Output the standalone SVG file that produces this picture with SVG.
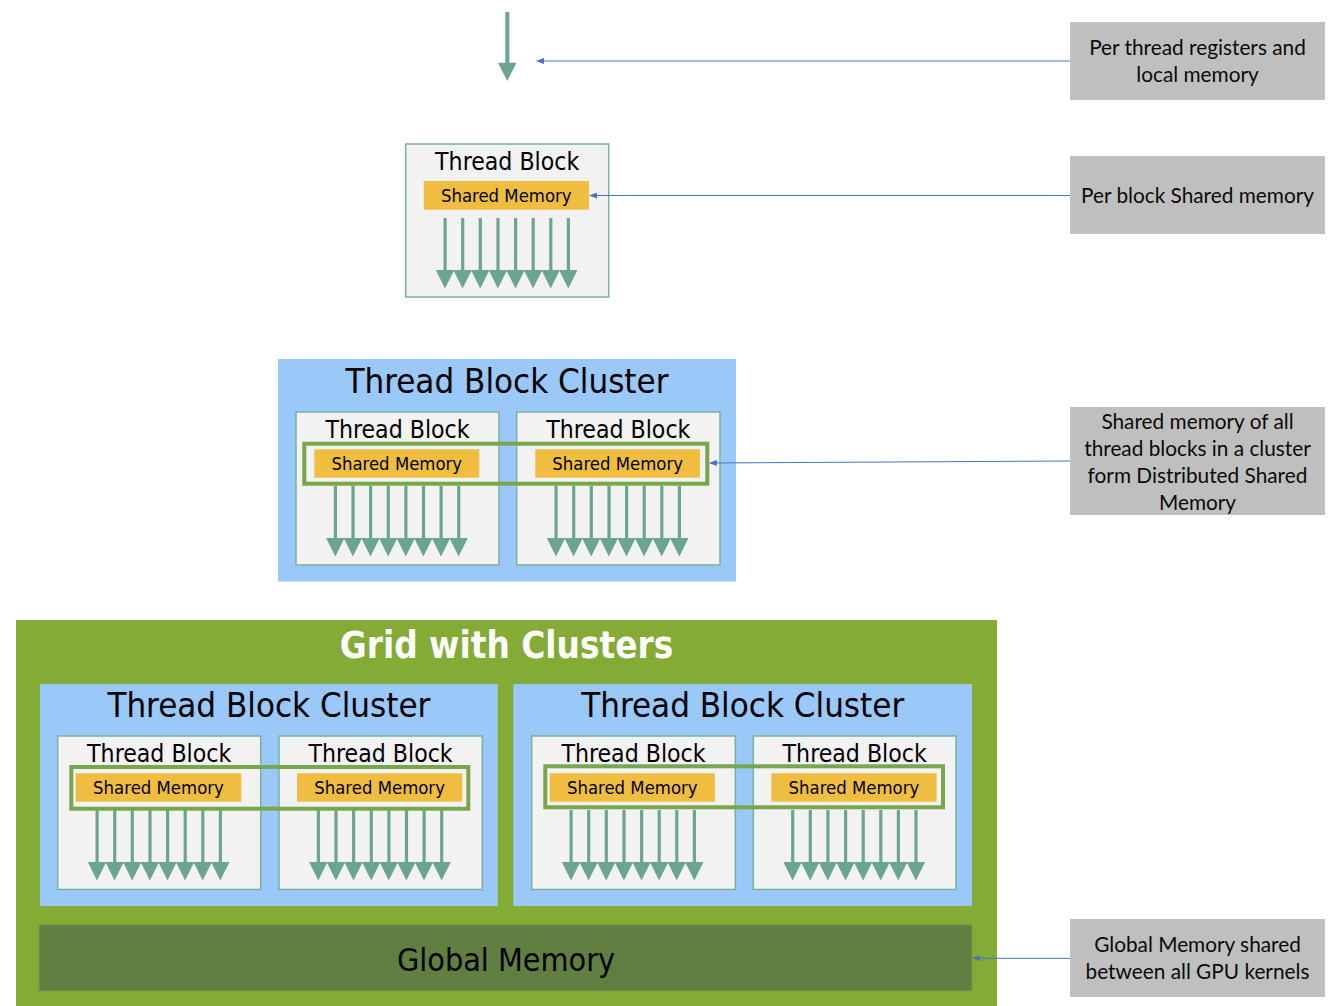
<svg xmlns="http://www.w3.org/2000/svg" xmlns:xlink="http://www.w3.org/1999/xlink" width="1335" height="1006" viewBox="0 0 1335 1006">
<style>
.tb{fill:#f2f2f2;stroke:#7bb09b;stroke-width:1.5}
.sm{fill:#efbd3f}
.cl{fill:#9ac8f8}
.dsm{fill:none;stroke:#78a64b;stroke-width:4}
.lbl{fill:#bfbfbf}
.t{font-family:"DejaVu Sans Condensed","DejaVu Sans",sans-serif;fill:#000;text-anchor:middle}
.tbt{font-size:24.6px}
.smt{font-size:18.4px}
.clt{font-size:34.6px}
.note{font-family:Lato,"Liberation Sans",sans-serif;font-size:20.8px;fill:#0a0a0a;text-anchor:middle}
.conn{stroke:#4a72c6;stroke-width:1;fill:none}
.ar{fill:#6ba48f}
</style>
<defs>
<marker id="ah" markerWidth="8" markerHeight="6" refX="7" refY="3" orient="auto" markerUnits="userSpaceOnUse">
<path d="M0,0 L8,3 L0,6 Z" fill="#4a72c6"/>
</marker>
<g id="arrows" class="ar">
<rect x="37.8" y="74" width="3.2" height="53"/><polygon points="30.1,126 48.5,126 39.3,144.5"/>
<rect x="55.4" y="74" width="3.2" height="53"/><polygon points="47.7,126 66.1,126 56.9,144.5"/>
<rect x="73.0" y="74" width="3.2" height="53"/><polygon points="65.3,126 83.7,126 74.5,144.5"/>
<rect x="90.7" y="74" width="3.2" height="53"/><polygon points="83.0,126 101.4,126 92.2,144.5"/>
<rect x="108.3" y="74" width="3.2" height="53"/><polygon points="100.6,126 119.0,126 109.8,144.5"/>
<rect x="125.9" y="74" width="3.2" height="53"/><polygon points="118.2,126 136.6,126 127.4,144.5"/>
<rect x="143.5" y="74" width="3.2" height="53"/><polygon points="135.8,126 154.2,126 145.0,144.5"/>
<rect x="161.1" y="74" width="3.2" height="53"/><polygon points="153.4,126 171.8,126 162.6,144.5"/>
</g>
</defs>
<rect width="1335" height="1006" fill="#ffffff"/>

<g id="thread">
<rect x="505.3" y="12" width="4" height="52" class="ar"/>
<polygon points="498,62.7 516.6,62.7 507.3,81" class="ar"/>
</g>

<g id="block-single" transform="translate(405.7,144)">
<rect class="tb" x="0" y="0" width="203" height="153"/>
<text class="t tbt" x="101.5" y="25.5">Thread Block</text>
<rect class="sm" x="18" y="37" width="165.3" height="28.7"/>
<text class="t smt" x="100.6" y="58.3">Shared Memory</text>
<use xlink:href="#arrows"/>
</g>

<g id="cluster-1">
<rect class="cl" x="278" y="359" width="458" height="222.5"/>
<text class="t clt" x="507" y="392.5">Thread Block Cluster</text>
<g id="c1-block-left" transform="translate(296,412)">
<rect class="tb" x="0" y="0" width="203" height="153"/>
<text class="t tbt" x="101.5" y="25.5">Thread Block</text>
<rect class="sm" x="18.3" y="37.3" width="165" height="28.4"/>
<text class="t smt" x="100.8" y="58.3">Shared Memory</text>
<use xlink:href="#arrows"/>
</g>
<g id="c1-block-right" transform="translate(516.7,412)">
<rect class="tb" x="0" y="0" width="203.3" height="153"/>
<text class="t tbt" x="101.6" y="25.5">Thread Block</text>
<rect class="sm" x="18.6" y="37.3" width="164.7" height="28.4"/>
<text class="t smt" x="101" y="58.3">Shared Memory</text>
<use xlink:href="#arrows"/>
</g>
<rect class="dsm" x="304.3" y="443.7" width="403" height="40"/>
</g>

<g id="grid">
<rect x="16" y="620" width="981" height="390" fill="#85ab37"/>
<text x="506.5" y="658" font-family="'DejaVu Sans Condensed','DejaVu Sans',sans-serif" font-weight="bold" font-size="36.5" fill="#ffffff" text-anchor="middle">Grid with Clusters</text>

<g id="cluster-a">
<rect class="cl" x="40" y="684" width="457.7" height="222"/>
<text class="t clt" x="268.9" y="716.5">Thread Block Cluster</text>
<g id="a-block-left" transform="translate(57.7,736)">
<rect class="tb" x="0" y="0" width="203" height="153.5"/>
<text class="t tbt" x="101.5" y="25.5">Thread Block</text>
<rect class="sm" x="18" y="37.3" width="165.6" height="28.4"/>
<text class="t smt" x="100.8" y="58.3">Shared Memory</text>
<use xlink:href="#arrows"/>
</g>
<g id="a-block-right" transform="translate(279,736)">
<rect class="tb" x="0" y="0" width="203.3" height="153.5"/>
<text class="t tbt" x="101.6" y="25.5">Thread Block</text>
<rect class="sm" x="18" y="37.3" width="165.3" height="28.4"/>
<text class="t smt" x="100.6" y="58.3">Shared Memory</text>
<use xlink:href="#arrows"/>
</g>
<rect class="dsm" x="71.3" y="767" width="397" height="41.7"/>
</g>

<g id="cluster-b">
<rect class="cl" x="513.3" y="684" width="458.7" height="222"/>
<text class="t clt" x="742.7" y="716.5">Thread Block Cluster</text>
<g id="b-block-left" transform="translate(531.7,736)">
<rect class="tb" x="0" y="0" width="203.6" height="153.5"/>
<text class="t tbt" x="101.8" y="25.5">Thread Block</text>
<rect class="sm" x="18" y="37.3" width="165.3" height="28.4"/>
<text class="t smt" x="100.6" y="58.3">Shared Memory</text>
<use xlink:href="#arrows"/>
</g>
<g id="b-block-right" transform="translate(753.3,736)">
<rect class="tb" x="0" y="0" width="202.7" height="153.5"/>
<text class="t tbt" x="101.4" y="25.5">Thread Block</text>
<rect class="sm" x="18" y="37.3" width="165.3" height="28.4"/>
<text class="t smt" x="100.6" y="58.3">Shared Memory</text>
<use xlink:href="#arrows"/>
</g>
<rect class="dsm" x="545.3" y="766.3" width="397.7" height="41"/>
</g>

<g id="global-memory">
<rect x="39.3" y="925" width="932.4" height="65.7" fill="#617f40" stroke="#6e8d47" stroke-width="1"/>
<text class="t" x="506" y="971" font-size="32" fill="#111">Global Memory</text>
</g>
</g>

<g id="label-thread">
<rect class="lbl" x="1070" y="22" width="255" height="78"/>
<text class="note" x="1197.5" y="55">Per thread registers and</text>
<text class="note" x="1197.5" y="82">local memory</text>
</g>
<g id="label-block">
<rect class="lbl" x="1070" y="156" width="255" height="78"/>
<text class="note" x="1197.5" y="203">Per block Shared memory</text>
</g>
<g id="label-cluster">
<rect class="lbl" x="1070" y="407" width="255" height="108"/>
<text class="note" x="1197.5" y="429">Shared memory of all</text>
<text class="note" x="1197.5" y="456">thread blocks in a cluster</text>
<text class="note" x="1197.5" y="483">form Distributed Shared</text>
<text class="note" x="1197.5" y="510">Memory</text>
</g>
<g id="label-global">
<rect class="lbl" x="1070" y="919" width="255" height="78"/>
<text class="note" x="1197.5" y="952">Global Memory shared</text>
<text class="note" x="1197.5" y="979">between all GPU kernels</text>
</g>

<g id="connectors">
<line class="conn" x1="1070" y1="61" x2="537" y2="61" marker-end="url(#ah)"/>
<line class="conn" x1="1070" y1="195.5" x2="590" y2="195.5" marker-end="url(#ah)"/>
<line class="conn" x1="1070" y1="461" x2="710" y2="463" marker-end="url(#ah)"/>
<line class="conn" x1="1070" y1="958.3" x2="973" y2="958.3" marker-end="url(#ah)"/>
</g>
</svg>
